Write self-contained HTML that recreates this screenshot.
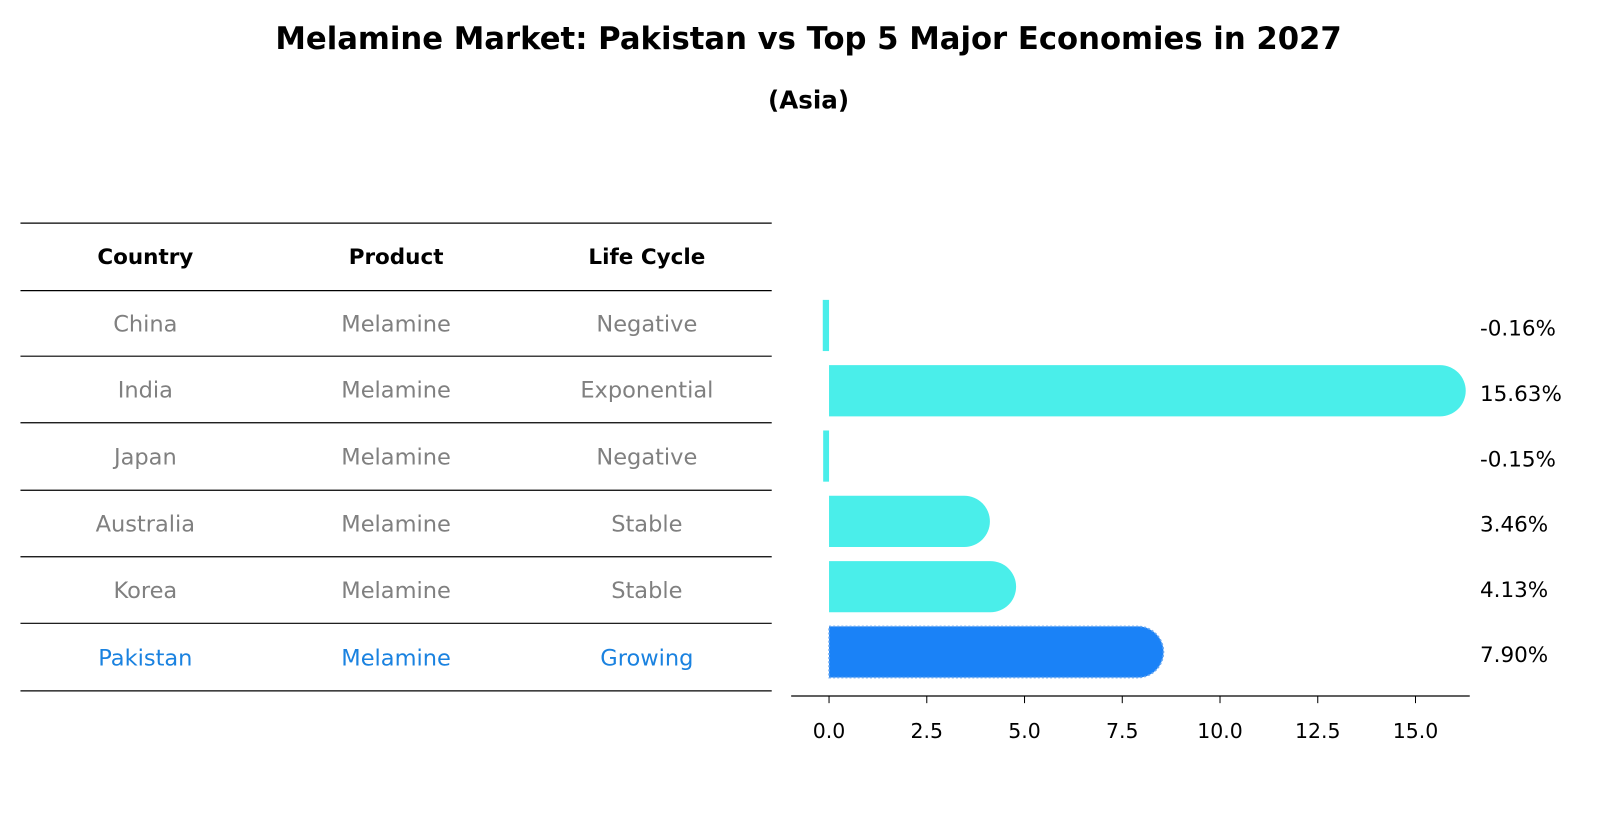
<!DOCTYPE html>
<html><head><meta charset="utf-8"><style>
body{margin:0;background:#fff;font-family:"Liberation Sans","DejaVu Sans",sans-serif}
</style></head><body>
<svg width="1604" height="823" xmlns="http://www.w3.org/2000/svg" font-family="DejaVu Sans, Liberation Sans, sans-serif">
<g transform="scale(1.0235)">
<text x="790" y="48" text-anchor="middle" font-size="30" font-weight="bold">Melamine Market: Pakistan vs Top 5 Major Economies in 2027</text>
<text x="790" y="106" text-anchor="middle" font-size="24" font-weight="bold">(Asia)</text>
<g id="table"></g>
<g id="plot"></g>
</g>
</svg>
<script>
const countries=["China","India","Japan","Australia","Korea","Pakistan"];
const products=["Melamine","Melamine","Melamine","Melamine","Melamine","Melamine"];
const lifecycles=["Negative","Exponential","Negative","Stable","Stable","Growing"];
const values=[-0.16,15.63,-0.15,3.46,4.13,7.90];
const ticks=[0,2.5,5,7.5,10,12.5,15];
const NS="http://www.w3.org/2000/svg";
function mk(t,a,p){const e=document.createElementNS(NS,t);for(const k in a)e.setAttribute(k,a[k]);p.appendChild(e);return e;}
const table=document.getElementById('table'),plot=document.getElementById('plot');
const lineYs=[218,284,348,413,479,544,609,675];
lineYs.forEach(y=>{const l=mk('line',{x1:20,x2:754,y1:y,y2:y,stroke:'#000','stroke-width':1.2},table);

});
const colX=[142,387,632];
["Country","Product","Life Cycle"].forEach((h,i)=>{const t=mk('text',{x:colX[i],y:258,'text-anchor':'middle','font-size':21,'font-weight':'bold'},table);t.textContent=h;

});
countries.forEach((c,r)=>{const y=(lineYs[r+1]+lineYs[r+2])/2+8;const col=r===countries.length-1?'#1a82e0':'#808080';
[c,products[r],lifecycles[r]].forEach((v,i)=>{const t=mk('text',{x:colX[i],y:y,'text-anchor':'middle','font-size':22,fill:col},table);t.textContent=v;

});});
const x=v=>810+v*38.2;
const rowY=i=>318+i*63.8;
const ax=mk('line',{x1:773,x2:1436,y1:680,y2:680,stroke:'#000','stroke-width':1.3},plot);


ticks.forEach(v=>{const tl=mk('line',{x1:x(v),x2:x(v),y1:680,y2:687,stroke:'#000'},plot);


const t=mk('text',{x:x(v),y:721,'text-anchor':'middle','font-size':20},plot);t.textContent=v.toFixed(1);

});
values.forEach((v,i)=>{const cy=rowY(i),h=50,r=25,last=i===values.length-1;const col=last?'#1a82f7':'#4aeeea';
let el;
if(v<0){el=mk('rect',{x:x(v),y:cy-h/2,width:x(0)-x(v),height:h,fill:col},plot);}
else{const x0=x(0),x1=x(v);el=mk('path',{d:`M${x0},${cy-h/2}H${x1}A${r},${r} 0 0 1 ${x1},${cy+h/2}H${x0}Z`,fill:col},plot);
if(last){el.setAttribute('stroke','#6aa8f0');el.setAttribute('stroke-dasharray','2,2');el.setAttribute('stroke-width','1.5');}}


const t=mk('text',{x:1446,y:cy+10,'font-size':21},plot);t.textContent=v.toFixed(2)+'%';

});
</script>
</body></html>
